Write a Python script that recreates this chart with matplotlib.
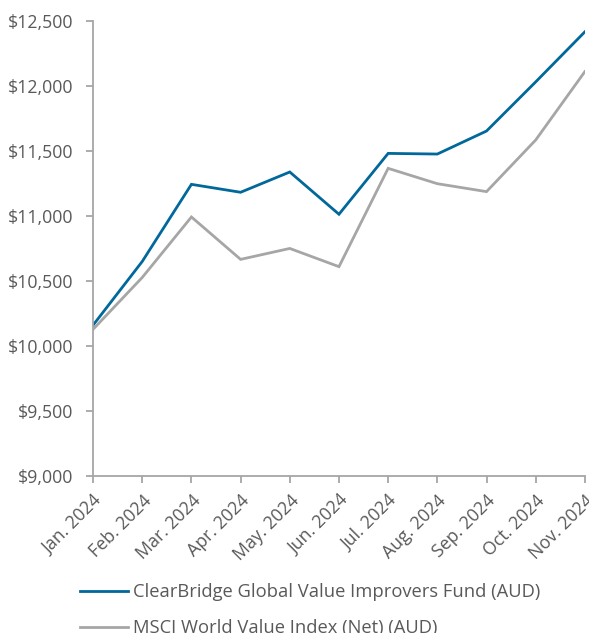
import matplotlib.pyplot as plt
from matplotlib.ticker import FuncFormatter

months = ['Jan. 2024', 'Feb. 2024', 'Mar. 2024', 'Apr. 2024', 'May. 2024', 'Jun. 2024',
          'Jul. 2024', 'Aug. 2024', 'Sep. 2024', 'Oct. 2024', 'Nov. 2024']
fund = [10160, 10650, 11243, 11182, 11338, 11013, 11481, 11476, 11653, 12031, 12416]
index = [10128, 10527, 10992, 10666, 10750, 10610, 11366, 11248, 11187, 11584, 12110]
fund_label = 'ClearBridge Global Value Improvers Fund (AUD)'
index_label = 'MSCI World Value Index (Net) (AUD)'

plt.rcParams['font.family'] = ['Open Sans', 'DejaVu Sans']
txt = '#595959'
axis_col = '#a6a6a6'

fig = plt.figure(figsize=(5.89, 6.33), dpi=100)
ax = fig.add_axes([0.158, 0.248, 0.835, 0.719])

x = range(len(months))
ax.plot(x, fund, color='#00689a', lw=2.0, label=fund_label, solid_joinstyle='miter')
ax.plot(x, index, color='#a6a6a6', lw=2.0, label=index_label, solid_joinstyle='miter')

ax.set_xlim(0, len(months) - 1)
ax.set_ylim(9000, 12500)
ax.set_yticks(range(9000, 12501, 500))
ax.yaxis.set_major_formatter(FuncFormatter(lambda v, p: f'${v:,.0f}'))
ax.set_xticks(list(x))
ax.set_xticklabels(months, rotation=45, ha='right', rotation_mode='anchor')

for s in ['top', 'right']:
    ax.spines[s].set_visible(False)
for s in ['left', 'bottom']:
    ax.spines[s].set_color(axis_col)
    ax.spines[s].set_linewidth(1.3)
ax.tick_params(axis='both', colors=axis_col, labelcolor=txt, labelsize=12.8, length=5, width=1.3)
ax.tick_params(axis='x', pad=6)
ax.tick_params(axis='y', pad=9)

fig.legend(loc='upper left', bbox_to_anchor=(0.136, 0.079), frameon=False, fontsize=13.2,
           labelcolor=txt, handlelength=2.6, handletextpad=0.3, labelspacing=1.0,
           borderaxespad=0, borderpad=0)

fig.savefig('out.png', dpi=100)
